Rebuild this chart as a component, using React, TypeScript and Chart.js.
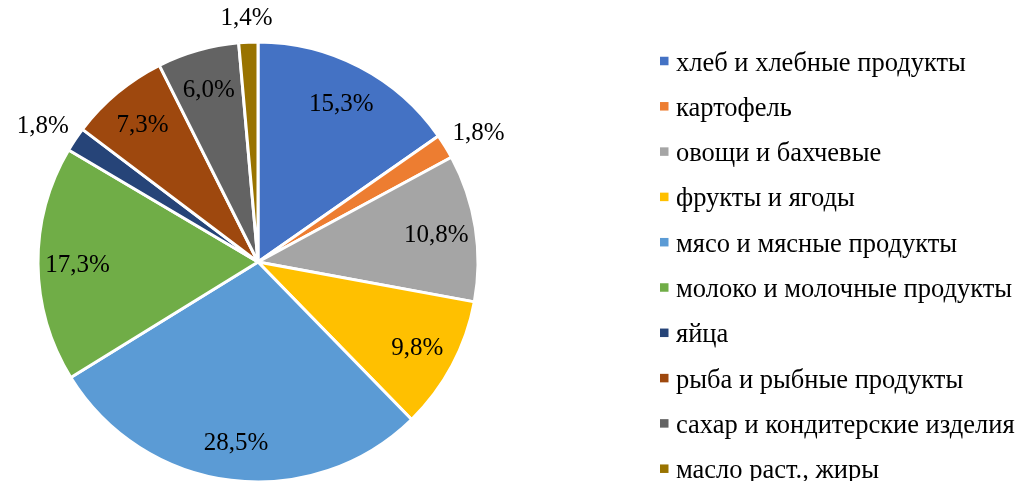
import React, { useEffect, useRef } from "react";
import { Chart, registerables } from "chart.js";

Chart.register(...registerables);

const categories = [
  "хлеб и хлебные продукты",
  "картофель",
  "овощи и бахчевые",
  "фрукты и ягоды",
  "мясо и мясные продукты",
  "молоко и молочные продукты",
  "яйца",
  "рыба и рыбные продукты",
  "сахар и кондитерские изделия",
  "масло раст., жиры",
];
const shares = [15.3, 1.8, 10.8, 9.8, 28.5, 17.3, 1.8, 7.3, 6.0, 1.4];
const colors = [
  "#4472C4",
  "#ED7D31",
  "#A5A5A5",
  "#FFC000",
  "#5B9BD5",
  "#70AD47",
  "#264478",
  "#9E480E",
  "#636363",
  "#997300",
];

const FONT = '"Liberation Serif", "Times New Roman", serif';

const fmt = (v: number) => v.toFixed(1).replace(".", ",") + "%";

const labelPlugin = {
  id: "sliceLabels",
  afterDatasetsDraw(chart: any) {
    const ctx = chart.ctx;
    const meta = chart.getDatasetMeta(0);
    const data = chart.data.datasets[0].data as number[];
    ctx.save();
    ctx.font = `25px ${FONT}`;
    ctx.fillStyle = "#000";
    ctx.textAlign = "center";
    ctx.textBaseline = "middle";
    meta.data.forEach((arc: any, i: number) => {
      const { x, y, startAngle, endAngle, outerRadius } = arc.getProps(
        ["x", "y", "startAngle", "endAngle", "outerRadius"],
        true
      );
      const mid = (startAngle + endAngle) / 2;
      const ux = Math.cos(mid);
      const uy = Math.sin(mid);
      const text = fmt(data[i]);
      if (data[i] >= 3) {
        const r = outerRadius * 0.82;
        ctx.fillText(text, x + ux * r, y + uy * r + 2);
      } else {
        const w = ctx.measureText(text).width;
        const h = 22;
        const r = outerRadius + 13;
        const ax = x + ux * r;
        const ay = y + uy * r;
        ctx.fillText(text, ax + (ux * w) / 2, ay + (uy * h) / 2);
      }
    });
    ctx.restore();
  },
};

const legendPlugin = {
  id: "customLegend",
  afterDraw(chart: any) {
    const ctx = chart.ctx;
    const labels = chart.data.labels as string[];
    const bg = chart.data.datasets[0].backgroundColor as string[];
    ctx.save();
    ctx.font = `26.5px ${FONT}`;
    ctx.textAlign = "left";
    ctx.textBaseline = "alphabetic";
    const x0 = 660;
    const step = 45.3;
    labels.forEach((lab, i) => {
      const boxC = 61 + i * step;
      const base = 70.5 + i * step;
      ctx.fillStyle = bg[i];
      ctx.fillRect(x0, boxC - 4.25, 8.5, 8.5);
      ctx.fillStyle = "#000";
      ctx.fillText(lab, x0 + 16, base);
    });
    ctx.restore();
  },
};

export default function App() {
  const ref = useRef<HTMLCanvasElement | null>(null);
  useEffect(() => {
    if (!ref.current) return;
    const chart = new Chart(ref.current, {
      type: "pie",
      data: {
        labels: categories,
        datasets: [
          {
            data: shares,
            backgroundColor: colors,
            borderColor: "#ffffff",
            borderWidth: 3,
          },
        ],
      },
      options: {
        animation: false,
        responsive: false,
        radius: 220,
        layout: { padding: { left: 18, right: 522, top: 43, bottom: 0 } },
        plugins: {
          legend: { display: false },
          tooltip: { enabled: false },
        },
      } as any,
      plugins: [labelPlugin, legendPlugin],
    });
    return () => chart.destroy();
  }, []);
  return (
    <div style={{ position: "fixed", left: 0, top: 0, width: 1020, height: 481, background: "#fff" }}>
      <canvas ref={ref} width={1020} height={481} />
    </div>
  );
}
